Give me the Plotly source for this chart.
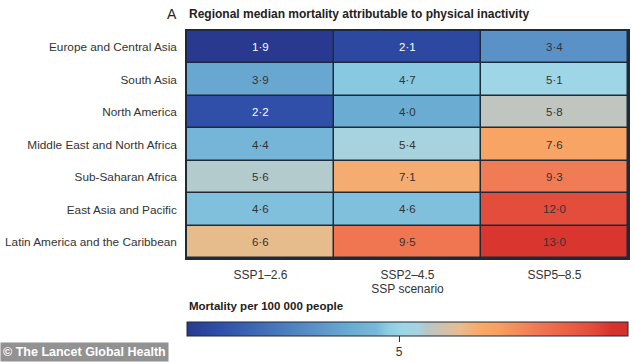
import numpy as np
import plotly.graph_objects as go

regions = ["Europe and Central Asia", "South Asia", "North America",
           "Middle East and North Africa", "Sub-Saharan Africa",
           "East Asia and Pacific", "Latin America and the Caribbean"]
scenarios = ["SSP1–2.6", "SSP2–4.5", "SSP5–8.5"]
ssp1_26 = [1.9, 3.9, 2.2, 4.4, 5.6, 4.6, 6.6]
ssp2_45 = [2.1, 4.7, 4.0, 5.4, 7.1, 4.6, 9.5]
ssp5_85 = [3.4, 5.1, 5.8, 7.6, 9.3, 12.0, 13.0]
colorbar_ticks = [5]
zmin_val, zmax_val = 1.9, 14.2

vals = np.array([ssp1_26, ssp2_45, ssp5_85]).T  # rows = regions
zlog = np.log(vals)
labels = [[f"{v:.1f}".replace(".", "·") for v in row] for row in vals]

colorscale = [
    [0.00, "#28398f"],
    [0.07, "#2e4ea8"],
    [0.29, "#5a92c8"],
    [0.37, "#6aacd2"],
    [0.43, "#78b8da"],
    [0.455, "#8ccce2"],
    [0.49, "#9ed6e8"],
    [0.525, "#a8d2dc"],
    [0.545, "#b9c6c4"],
    [0.56, "#c4c4bc"],
    [0.62, "#e8bc8c"],
    [0.665, "#f8a868"],
    [0.70, "#f8a262"],
    [0.80, "#f07652"],
    [0.92, "#e44c3a"],
    [0.96, "#d8342e"],
    [1.00, "#d4302c"],
]

fig = go.Figure()
fig.add_trace(go.Heatmap(
    z=zlog, x=scenarios, y=regions,
    zmin=np.log(zmin_val), zmax=np.log(zmax_val),
    colorscale=colorscale, xgap=1.5, ygap=1.5,
    hoverinfo="skip",
    colorbar=dict(
        orientation="h", x=0, xanchor="left", y=-0.28, yanchor="top",
        len=1.0, lenmode="fraction", thickness=14, xpad=0, ypad=0,
        outlinecolor="#1e2a38", outlinewidth=1,
        tickvals=[np.log(t) for t in colorbar_ticks],
        ticktext=[str(t) for t in colorbar_ticks],
        ticks="outside", ticklen=6, tickcolor="#333",
        tickfont=dict(size=12, color="#333"),
    ),
))

for i, r in enumerate(regions):
    for j, s in enumerate(scenarios):
        fig.add_annotation(x=s, y=r, text=labels[i][j], showarrow=False,
                           font=dict(size=11.5, color="white" if vals[i][j] < 3 else "#333"))

fig.update_layout(
    width=634, height=362,
    margin=dict(l=187, r=6, t=31, b=104, autoexpand=False),
    paper_bgcolor="white", plot_bgcolor="#1e2a38",
    font=dict(family="Liberation Sans", size=12, color="#333"),
    xaxis=dict(showgrid=False, zeroline=False, showline=True, mirror=True,
               linecolor="#1e2a38", linewidth=1.5, ticks="", automargin=False,
               ticklabelstandoff=5,
               title=dict(text="SSP scenario", standoff=2, font=dict(size=12))),
    yaxis=dict(showgrid=False, zeroline=False, showline=True, mirror=True,
               linecolor="#1e2a38", linewidth=1.5, ticks="", automargin=False,
               autorange="reversed", ticklabelstandoff=6, tickfont=dict(size=11.8)),
    annotations=list(fig.layout.annotations) + [
        dict(text="A", x=-0.05, y=1.075, xref="paper", yref="paper",
             xanchor="left", yanchor="middle", showarrow=False,
             font=dict(size=14, color="#222")),
        dict(text="<b>Regional median mortality attributable to physical inactivity</b>",
             x=0.0, y=1.075, xref="paper", yref="paper", xanchor="left",
             yanchor="middle", showarrow=False, font=dict(size=12, color="#222")),
        dict(text="<b>Mortality per 100 000 people</b>", x=0.0, y=-0.212,
             xref="paper", yref="paper", xanchor="left", yanchor="middle",
             showarrow=False, font=dict(size=11.5, color="#222")),
        dict(text="<b>© The Lancet Global Health</b>", x=-0.424, y=-0.458,
             xref="paper", yref="paper", xanchor="left", yanchor="bottom",
             showarrow=False, font=dict(size=12.5, color="white"),
             bgcolor="#929292", borderpad=2),
    ],
)

fig.write_html("out.html", config={"displayModeBar": False},
               post_script="document.body.style.margin='0px';")
